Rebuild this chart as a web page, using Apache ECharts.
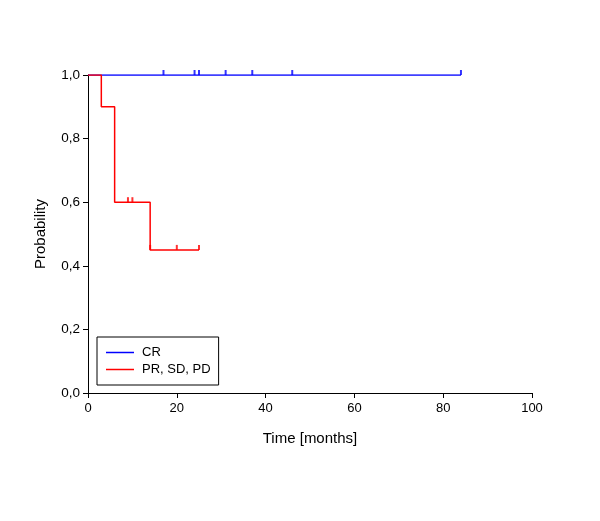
<!DOCTYPE html>
<html>
<head>
<meta charset="utf-8">
<script src="https://cdn.jsdelivr.net/npm/echarts@6/dist/echarts.min.js"></script>
<style>
  html, body { margin: 0; padding: 0; background: #fff; }
  #main { width: 600px; height: 521px; }
</style>
</head>
<body>
<div id="main"></div>
<script>
// survival curves (time in months, probability)
var crCurve = [[0, 1.0], [84, 1.0]];
var crCensored = [17, 24, 25, 31, 37, 46, 84];

var prCurve = [[0, 1.0], [3, 0.9], [6, 0.6], [14, 0.45], [25, 0.45]];
var prCensored = [[9, 0.6], [10, 0.6], [14, 0.45], [20, 0.45], [25, 0.45]];

var xTicks = [0, 20, 40, 60, 80, 100];

var font = 'Liberation Sans, Arial, sans-serif';
var lineIcon = 'path://M0,5.25H28V6.75H0Z';

var myChart = echarts.init(document.getElementById('main'));

var option = {
    backgroundColor: '#fff',
    animation: false,
    grid: {
        left: 88,
        right: 68,
        top: 75,
        bottom: 128
    },
    legend: {
        orient: 'vertical',
        left: 97,
        top: 337,
        padding: [9, 8, 9, 9],
        itemGap: 4,
        itemWidth: 28,
        itemHeight: 12,
        borderColor: '#000',
        borderWidth: 1,
        textStyle: { fontFamily: font, fontSize: 13, color: '#000', padding: [0, 0, 0, 3] },
        data: [
            { name: 'CR', icon: lineIcon, itemStyle: { color: '#0000ff', borderWidth: 0 } },
            { name: 'PR, SD, PD', icon: lineIcon, itemStyle: { color: '#ff0000', borderWidth: 0 } }
        ]
    },
    xAxis: {
        type: 'value',
        min: 0,
        max: 100,
        interval: 20,
        name: 'Time [months]',
        nameLocation: 'middle',
        nameGap: 38,
        nameTextStyle: { fontFamily: font, fontSize: 15, color: '#000' },
        splitLine: { show: false },
        axisLine: { onZero: false, lineStyle: { color: '#000', width: 1 } },
        axisTick: { length: 5, lineStyle: { color: '#000' } },
        axisLabel: {
            margin: 9,
            fontFamily: font, fontSize: 13, color: '#000',
            customValues: xTicks
        }
    },
    yAxis: {
        type: 'value',
        min: 0,
        max: 1,
        interval: 0.2,
        name: 'Probability',
        nameLocation: 'middle',
        nameGap: 40,
        nameTextStyle: { fontFamily: font, fontSize: 15, color: '#000' },
        splitLine: { show: false },
        axisLine: { show: true, lineStyle: { color: '#000', width: 1 } },
        axisTick: { show: true, length: 5, lineStyle: { color: '#000' } },
        axisLabel: {
            margin: 8,
            fontFamily: font, fontSize: 13.5, color: '#000',
            formatter: function (v) { return v.toFixed(1).replace('.', ','); }
        }
    },
    series: [
        {
            name: 'CR',
            type: 'line',
            step: 'end',
            symbol: 'none',
            color: '#0000ff',
            lineStyle: { color: '#0000ff', width: 1.5 },
            data: crCurve,
            z: 2
        },
        {
            name: 'PR, SD, PD',
            type: 'line',
            step: 'end',
            symbol: 'none',
            color: '#ff0000',
            lineStyle: { color: '#ff0000', width: 1.5 },
            data: prCurve,
            z: 3
        },
        {
            name: 'CR',
            type: 'scatter',
            symbol: 'rect',
            symbolSize: [2, 5],
            symbolOffset: [0, -2.5],
            itemStyle: { color: '#0000ff' },
            data: crCensored.map(function (t) { return [t, 1.0]; }),
            z: 2
        },
        {
            name: 'PR, SD, PD',
            type: 'scatter',
            symbol: 'rect',
            symbolSize: [2, 5],
            symbolOffset: [0, -2.5],
            itemStyle: { color: '#ff0000' },
            data: prCensored,
            z: 3
        }
    ]
};

myChart.setOption(option);
</script>
</body>
</html>
